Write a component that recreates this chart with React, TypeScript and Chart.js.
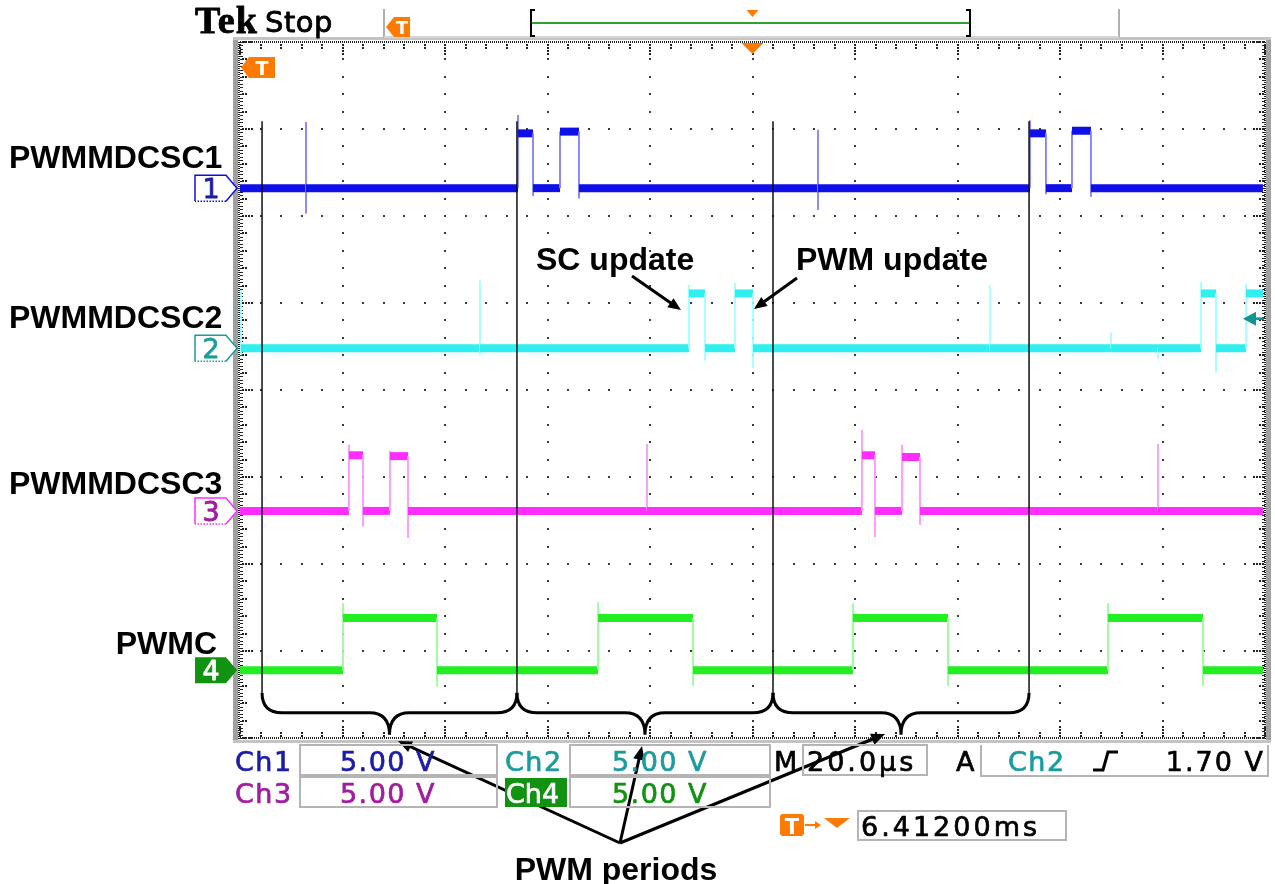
import React, { useEffect, useRef } from 'react';
import { Chart, registerables } from 'chart.js';

Chart.register(...registerables);

// ---- Data (x in horizontal divisions 0..10, y in vertical divisions 0..8) ----
const ch1X = [0, 0.644, 0.644, 0.644, 0.644, 2.712, 2.712, 2.712, 2.859, 2.859, 2.859, 3.122, 3.122, 3.307, 3.307, 3.307, 5.639, 5.639, 5.639, 5.639, 7.707, 7.707, 7.707, 7.863, 7.863, 7.863, 8.117, 8.117, 8.302, 8.302, 8.302, 9.98];
const ch1Y = [6.32, 6.32, 7.08, 6.03, 6.32, 6.32, 7.16, 6.95, 6.95, 6.23, 6.32, 6.32, 6.97, 6.97, 6.2, 6.32, 6.32, 6.99, 6.07, 6.32, 6.32, 7.1, 6.95, 6.95, 6.25, 6.32, 6.32, 6.98, 6.98, 6.22, 6.32, 6.32];

const ch2X = [0.01, 0.01, 0.01, 2.341, 2.341, 2.341, 2.341, 4.38, 4.38, 4.38, 4.537, 4.537, 4.537, 4.829, 4.829, 4.829, 5.005, 5.005, 5.005, 7.317, 7.317, 7.317, 7.317, 8.498, 8.498, 8.498, 8.956, 8.956, 8.956, 9.376, 9.376, 9.376, 9.522, 9.522, 9.522, 9.815, 9.815, 9.815, 9.98];
const ch2Y = [5.15, 4.4, 4.48, 4.48, 5.26, 4.4, 4.48, 4.48, 5.21, 5.11, 5.11, 4.34, 4.48, 4.48, 5.23, 5.11, 5.11, 4.25, 4.48, 4.48, 5.2, 4.45, 4.48, 4.48, 4.66, 4.48, 4.48, 4.36, 4.48, 4.48, 5.24, 5.11, 5.11, 4.2, 4.48, 4.48, 5.22, 5.11, 5.11];

const ch3X = [0, 1.063, 1.063, 1.063, 1.2, 1.2, 1.2, 1.463, 1.463, 1.463, 1.639, 1.639, 1.639, 3.971, 3.971, 3.971, 6.068, 6.068, 6.068, 6.195, 6.195, 6.195, 6.459, 6.459, 6.459, 6.634, 6.634, 6.634, 8.956, 8.956, 8.956, 9.98];
const ch3Y = [2.61, 2.61, 3.37, 3.25, 3.25, 2.43, 2.61, 2.61, 3.3, 3.24, 3.24, 2.3, 2.61, 2.61, 3.38, 2.61, 2.61, 3.54, 3.25, 3.25, 2.31, 2.61, 2.61, 3.37, 3.23, 3.23, 2.45, 2.61, 2.61, 3.38, 2.61, 2.61];

const ch4X = [0, 1.005, 1.005, 1.005, 1.922, 1.922, 1.922, 3.493, 3.493, 3.493, 4.42, 4.42, 4.42, 5.98, 5.98, 5.98, 6.907, 6.907, 6.907, 8.468, 8.468, 8.468, 9.395, 9.395, 9.395, 9.98];
const ch4Y = [0.78, 0.78, 1.55, 1.38, 1.38, 0.59, 0.78, 0.78, 1.56, 1.38, 1.38, 0.6, 0.78, 0.78, 1.55, 1.38, 1.38, 0.6, 0.78, 0.78, 1.55, 1.38, 1.38, 0.6, 0.78, 0.78];

const periodX = [0.215, 2.702, 5.2, 7.698];
const periodTop = 7.09;
const periodBottom = 0.52;

const channelLabels = ['PWMMDCSC1', 'PWMMDCSC2', 'PWMMDCSC3', 'PWMC'];
const channelLevels = [6.32, 4.48, 2.61, 0.78];
const scaleTexts = ['5.00 V', '5.00 V', '5.00 V', '5.00 V'];
const timebaseText = '20.0µs';
const triggerLevelText = '1.70 V';
const triggerLevelDiv = 4.82;
const triggerPosText = '6.41200ms';

const X_DIVS = 10;
const Y_DIVS = 8;

const colors = {
  ch1: '#0f0fe8', ch1e: '#7f7fff', ch1t: '#1c1ca8',
  ch2: '#2ef0f0', ch2e: '#a0ffff', ch2t: '#1c9c9c',
  ch3: '#ff2eff', ch3e: '#ff96ff', ch3t: '#a01ca0',
  ch4: '#22ee22', ch4e: '#96ff96', ch4t: '#119211',
  orange: '#ff7a00',
};

function pts(xs: number[], ys: number[]) {
  return xs.map((x, i) => ({ x, y: ys[i] }));
}

function traceDataset(xs: number[], ys: number[], main: string, edge: string) {
  return {
    data: pts(xs, ys),
    borderColor: main,
    borderWidth: 8,
    pointRadius: 0,
    tension: 0,
    fill: false,
    segment: {
      borderWidth: (c: any) => (c.p0.parsed.y === c.p1.parsed.y ? 8 : 1.8),
      borderColor: (c: any) => (c.p0.parsed.y === c.p1.parsed.y ? main : edge),
    },
  };
}

const SCOPE_FONT = '"DejaVu Sans", Verdana, sans-serif';
const LABEL_FONT = '"Liberation Sans", Arial, sans-serif';

function txt(ctx: CanvasRenderingContext2D, s: string, x: number, y: number, font: string, color: string, align: CanvasTextAlign = 'left', spacing = 0, weight = 0) {
  ctx.save();
  ctx.font = font;
  ctx.fillStyle = color;
  ctx.textAlign = align;
  ctx.textBaseline = 'alphabetic';
  (ctx as any).letterSpacing = spacing + 'px';
  ctx.fillText(s, x, y);
  if (weight > 0) {
    ctx.strokeStyle = color;
    ctx.lineWidth = weight;
    ctx.lineJoin = 'round';
    ctx.strokeText(s, x, y);
  }
  ctx.restore();
}

function arrow(ctx: CanvasRenderingContext2D, x0: number, y0: number, x1: number, y1: number, w = 3, head = 14) {
  const a = Math.atan2(y1 - y0, x1 - x0);
  ctx.save();
  ctx.strokeStyle = '#000';
  ctx.fillStyle = '#000';
  ctx.lineWidth = w;
  ctx.beginPath();
  ctx.moveTo(x0, y0);
  ctx.lineTo(x1 - Math.cos(a) * head * 0.7, y1 - Math.sin(a) * head * 0.7);
  ctx.stroke();
  ctx.beginPath();
  ctx.moveTo(x1, y1);
  ctx.lineTo(x1 - head * Math.cos(a - 0.4), y1 - head * Math.sin(a - 0.4));
  ctx.lineTo(x1 - head * Math.cos(a + 0.4), y1 - head * Math.sin(a + 0.4));
  ctx.closePath();
  ctx.fill();
  ctx.restore();
}

function marker(ctx: CanvasRenderingContext2D, num: string, cy: number, line: string, textColor: string, filled: boolean) {
  const x0 = 195, x1 = 226, tip = 237, h = 13;
  ctx.save();
  ctx.beginPath();
  ctx.moveTo(x0, cy - h);
  ctx.lineTo(x1, cy - h);
  ctx.lineTo(tip, cy);
  ctx.lineTo(x1, cy + h);
  ctx.lineTo(x0, cy + h);
  ctx.closePath();
  if (filled) {
    ctx.fillStyle = line;
    ctx.fill();
  } else {
    ctx.fillStyle = '#fff';
    ctx.fill();
    ctx.strokeStyle = line;
    ctx.lineWidth = 1.5;
    ctx.beginPath();
    ctx.moveTo(x0, cy + h);
    ctx.lineTo(x0, cy - h);
    ctx.lineTo(x1, cy - h);
    ctx.lineTo(tip, cy);
    ctx.lineTo(x1, cy + h);
    ctx.stroke();
    ctx.setLineDash([1.5, 1.5]);
    ctx.beginPath();
    ctx.moveTo(x1, cy + h);
    ctx.lineTo(x0, cy + h);
    ctx.stroke();
  }
  ctx.restore();
  txt(ctx, num, 211, cy + 10, '27px ' + SCOPE_FONT, filled ? '#fff' : textColor, 'center', 0, 0.8);
}

function tMarker(ctx: CanvasRenderingContext2D, x: number, y: number, w: number, h: number) {
  ctx.save();
  ctx.fillStyle = colors.orange;
  ctx.beginPath();
  ctx.moveTo(x, y + h / 2);
  ctx.lineTo(x + 8, y);
  ctx.lineTo(x + w, y);
  ctx.lineTo(x + w, y + h);
  ctx.lineTo(x + 8, y + h);
  ctx.closePath();
  ctx.fill();
  ctx.restore();
  txt(ctx, 'T', x + 8 + (w - 8) / 2, y + h - 3, 'bold ' + Math.round(h * 0.9) + 'px ' + SCOPE_FONT, '#fff', 'center');
}

const decorPlugin = {
  id: 'scopeDecor',
  beforeDatasetsDraw(chart: any) {
    const ctx: CanvasRenderingContext2D = chart.ctx;
    const xs = chart.scales.x;
    const ys = chart.scales.y;
    const L = xs.getPixelForValue(0), R = xs.getPixelForValue(X_DIVS);
    const T = ys.getPixelForValue(Y_DIVS), B = ys.getPixelForValue(0);
    ctx.save();
    // grey frame
    ctx.fillStyle = '#a0a0a0';
    ctx.fillRect(L - 7, T - 4, 5, B - T + 8);
    ctx.fillRect(R + 1, T - 4, 5, B - T + 8);
    ctx.fillStyle = '#c4c4c4';
    ctx.fillRect(L - 7, T - 5, R - L + 13, 3);
    ctx.fillRect(L - 7, B + 2, R - L + 13, 3);
    // grid dots
    ctx.fillStyle = '#3a3a3a';
    for (let i = 1; i < X_DIVS; i++) {
      const px = Math.round(xs.getPixelForValue(i));
      for (let j = 1; j < Y_DIVS * 5; j++) {
        const py = Math.round(ys.getPixelForValue(j / 5));
        ctx.fillRect(px - 1, py - 1, 2, 2);
      }
    }
    for (let j = 1; j < Y_DIVS; j++) {
      const py = Math.round(ys.getPixelForValue(j));
      for (let i = 1; i < X_DIVS * 5; i++) {
        const px = Math.round(xs.getPixelForValue(i / 5));
        ctx.fillRect(px - 1, py - 1, 2, 2);
      }
    }
    // border dotted lines
    ctx.fillStyle = '#222';
    for (let x = L; x <= R; x += 2) {
      ctx.fillRect(x, T - 1, 1, 2);
      ctx.fillRect(x, B - 1, 1, 2);
    }
    for (let y = T; y <= B; y += 2) {
      ctx.fillRect(L - 2, y, 2, 1);
      ctx.fillRect(R - 1, y, 2, 1);
    }
    // border ticks
    for (let i = 0; i <= X_DIVS * 5; i++) {
      const px = Math.round(xs.getPixelForValue(i / 5));
      const major = i % 5 === 0;
      const len = major ? 12 : 5;
      for (let k = 2; k <= len; k += 3) {
        ctx.fillRect(px - 1, T + k, 2, 2);
        ctx.fillRect(px - 1, B - k - 1, 2, 2);
      }
    }
    for (let j = 0; j <= Y_DIVS * 5; j++) {
      const py = Math.round(ys.getPixelForValue(j / 5));
      const major = j % 5 === 0;
      const len = major ? 12 : 6;
      for (let k = 2; k <= len; k += 3) {
        ctx.fillRect(L + k, py - 1, 2, 2);
        ctx.fillRect(R - k - 1, py - 1, 2, 2);
      }
    }
    for (let j = 0; j <= Y_DIVS * 25; j++) {
      const py = Math.round(ys.getPixelForValue(j / 25));
      ctx.fillRect(L, py, 3, 1);
      ctx.fillRect(R - 3, py, 3, 1);
    }
    ctx.restore();
  },
  afterDraw(chart: any) {
    const ctx: CanvasRenderingContext2D = chart.ctx;
    const xs = chart.scales.x;
    const ys = chart.scales.y;
    const T = ys.getPixelForValue(Y_DIVS);
    const R = xs.getPixelForValue(X_DIVS);

    // ---- top status bar ----
    txt(ctx, 'Tek', 195, 33, 'bold 38px "Liberation Serif", "Times New Roman", serif', '#000', 'left', 1, 0.8);
    txt(ctx, 'Stop', 265, 32, '29px ' + SCOPE_FONT, '#000', 'left', 0.5, 0.8);
    ctx.save();
    ctx.fillStyle = '#b0b0b0';
    ctx.fillRect(383, 9, 2, 29);
    ctx.fillRect(1118, 9, 2, 29);
    ctx.fillStyle = '#d4d4d4';
    ctx.fillRect(384, 36, 735, 2);
    // record bracket
    ctx.strokeStyle = '#000';
    ctx.lineWidth = 2;
    ctx.beginPath();
    ctx.moveTo(535, 10); ctx.lineTo(531, 10); ctx.lineTo(531, 36); ctx.lineTo(535, 36);
    ctx.moveTo(966, 10); ctx.lineTo(970, 10); ctx.lineTo(970, 36); ctx.lineTo(966, 36);
    ctx.stroke();
    ctx.strokeStyle = '#2ea02e';
    ctx.beginPath();
    ctx.moveTo(532, 23); ctx.lineTo(969, 23);
    ctx.stroke();
    ctx.fillStyle = colors.orange;
    const trigX = xs.getPixelForValue(X_DIVS / 2);
    ctx.beginPath();
    ctx.moveTo(trigX - 6, 10); ctx.lineTo(trigX + 6, 10); ctx.lineTo(trigX, 17);
    ctx.closePath(); ctx.fill();
    ctx.beginPath();
    ctx.moveTo(trigX - 11, T + 1); ctx.lineTo(trigX + 11, T + 1); ctx.lineTo(trigX, T + 12);
    ctx.closePath(); ctx.fill();
    ctx.restore();
    tMarker(ctx, 386, 17, 24, 20);
    tMarker(ctx, 241, 57, 34, 21);

    // trigger level arrow (Ch2)
    const tl = ys.getPixelForValue(triggerLevelDiv);
    ctx.save();
    ctx.fillStyle = '#129494';
    ctx.strokeStyle = '#129494';
    ctx.lineWidth = 2.5;
    ctx.beginPath();
    ctx.moveTo(1243, tl); ctx.lineTo(1256, tl - 7); ctx.lineTo(1256, tl + 7);
    ctx.closePath(); ctx.fill();
    ctx.beginPath();
    ctx.moveTo(1254, tl); ctx.lineTo(R - 1, tl);
    ctx.stroke();
    ctx.restore();

    // ---- channel markers and labels ----
    const mk = [
      ['1', colors.ch1, colors.ch1t, false],
      ['2', colors.ch2t, colors.ch2t, false],
      ['3', colors.ch3, colors.ch3t, false],
      ['4', colors.ch4t, '#fff', true],
    ] as const;
    channelLevels.forEach((lv, i) => {
      const cy = ys.getPixelForValue(lv);
      marker(ctx, mk[i][0], cy, mk[i][1], mk[i][2], mk[i][3]);
    });
    const lf = 'bold 32px ' + LABEL_FONT;
    txt(ctx, channelLabels[0], 9, 168, lf, '#000');
    txt(ctx, channelLabels[1], 9, 328, lf, '#000');
    txt(ctx, channelLabels[2], 9, 494, lf, '#000');
    txt(ctx, channelLabels[3], 217, 654, lf, '#000', 'right');

    // ---- period braces ----
    ctx.save();
    ctx.strokeStyle = '#000';
    ctx.lineWidth = 3;
    const by0 = ys.getPixelForValue(periodBottom);
    const by1 = by0 + 20;
    const by2 = by0 + 42;
    for (let k = 0; k < periodX.length - 1; k++) {
      const a = xs.getPixelForValue(periodX[k]);
      const b = xs.getPixelForValue(periodX[k + 1]);
      const m = (a + b) / 2;
      const r = 20;
      ctx.beginPath();
      ctx.moveTo(a, by0);
      ctx.quadraticCurveTo(a, by1, a + r, by1);
      ctx.lineTo(m - r, by1);
      ctx.quadraticCurveTo(m, by1, m, by2);
      ctx.quadraticCurveTo(m, by1, m + r, by1);
      ctx.lineTo(b - r, by1);
      ctx.quadraticCurveTo(b, by1, b, by0);
      ctx.stroke();
    }
    ctx.restore();

    // ---- annotations ----
    const af = 'bold 32px ' + LABEL_FONT;
    txt(ctx, 'SC update', 536, 270, af, '#000');
    txt(ctx, 'PWM update', 796, 270, af, '#000');
    arrow(ctx, 632, 276, 681, 310, 3, 14);
    arrow(ctx, 797, 278, 754, 309, 3, 14);
    txt(ctx, 'PWM periods', 616, 880, af, '#000', 'center');
    arrow(ctx, 620, 843, 398, 741, 3, 15);
    arrow(ctx, 620, 843, 642, 746, 3, 15);
    arrow(ctx, 620, 843, 885, 734, 3, 15);

    // ---- bottom readout ----
    const sf = '27px ' + SCOPE_FONT;
    const wt = 0.7;
    ctx.save();
    ctx.strokeStyle = '#b4b4b4';
    ctx.lineWidth = 2;
    ctx.strokeRect(300, 745, 197, 30);
    ctx.strokeRect(570, 745, 200, 30);
    ctx.strokeRect(803, 745, 124, 30);
    ctx.beginPath();
    ctx.moveTo(981, 745); ctx.lineTo(981, 776); ctx.lineTo(1268, 776); ctx.lineTo(1268, 745);
    ctx.stroke();
    ctx.strokeRect(300, 777, 197, 30);
    ctx.strokeRect(570, 777, 200, 30);
    ctx.strokeRect(858, 811, 208, 29);
    ctx.fillStyle = colors.ch4t;
    ctx.fillRect(505, 778, 62, 29);
    ctx.restore();

    txt(ctx, 'Ch1', 235, 771, sf, colors.ch1t, 'left', 1.5, wt);
    txt(ctx, scaleTexts[0], 388, 771, sf, colors.ch1t, 'center', 1.5, wt);
    txt(ctx, 'Ch2', 505, 771, sf, colors.ch2t, 'left', 1.5, wt);
    txt(ctx, scaleTexts[1], 660, 771, sf, colors.ch2t, 'center', 1.5, wt);
    txt(ctx, 'M', 774, 771, sf, '#000', 'left', 0, wt);
    txt(ctx, timebaseText, 807, 771, sf, '#000', 'left', 3, wt);
    txt(ctx, 'A', 956, 771, sf, '#000', 'left', 0, wt);
    txt(ctx, 'Ch2', 1008, 771, sf, colors.ch2t, 'left', 1.5, wt);
    txt(ctx, triggerLevelText, 1265, 771, sf, '#000', 'right', 2, wt);
    txt(ctx, 'Ch3', 235, 803, sf, colors.ch3t, 'left', 1.5, wt);
    txt(ctx, scaleTexts[2], 388, 803, sf, colors.ch3t, 'center', 1.5, wt);
    txt(ctx, 'Ch4', 506, 803, sf, '#fff', 'left', 0, wt);
    txt(ctx, scaleTexts[3], 660, 803, sf, colors.ch4t, 'center', 1.5, wt);
    txt(ctx, triggerPosText, 861, 836, sf, '#000', 'left', 3, wt);

    // rising edge symbol
    ctx.save();
    ctx.strokeStyle = '#000';
    ctx.lineWidth = 3;
    ctx.beginPath();
    ctx.moveTo(1093, 770); ctx.lineTo(1103, 770); ctx.lineTo(1108, 752); ctx.lineTo(1118, 752);
    ctx.stroke();
    // T -> trigger icon
    ctx.fillStyle = colors.orange;
    ctx.beginPath();
    (ctx as any).roundRect ? (ctx as any).roundRect(780, 814, 24, 22, 3) : ctx.rect(780, 814, 24, 22);
    ctx.fill();
    ctx.strokeStyle = colors.orange;
    ctx.lineWidth = 2;
    ctx.beginPath();
    ctx.moveTo(805, 825); ctx.lineTo(819, 825);
    ctx.stroke();
    ctx.beginPath();
    ctx.moveTo(821, 825); ctx.lineTo(815, 821); ctx.lineTo(815, 829); ctx.closePath(); ctx.fill();
    ctx.beginPath();
    ctx.moveTo(824, 818); ctx.lineTo(850, 818); ctx.lineTo(837, 828); ctx.closePath(); ctx.fill();
    ctx.restore();
    txt(ctx, 'T', 792, 834, 'bold 21px ' + SCOPE_FONT, '#fff', 'center');
  },
};

export default function App() {
  const ref = useRef<HTMLCanvasElement | null>(null);
  useEffect(() => {
    if (!ref.current) return;
    const periodData: any[] = [];
    periodX.forEach((x) => {
      periodData.push({ x, y: periodTop }, { x, y: periodBottom }, { x, y: null });
    });
    const chart = new Chart(ref.current, {
      type: 'line',
      data: {
        datasets: [
          {
            data: periodData,
            borderColor: '#111',
            borderWidth: 1.5,
            pointRadius: 0,
            spanGaps: false,
            fill: false,
          } as any,
          traceDataset(ch1X, ch1Y, colors.ch1, colors.ch1e),
          traceDataset(ch2X, ch2Y, colors.ch2, colors.ch2e),
          traceDataset(ch3X, ch3Y, colors.ch3, colors.ch3e),
          traceDataset(ch4X, ch4Y, colors.ch4, colors.ch4e),
        ],
      },
      options: {
        animation: false,
        responsive: false,
        devicePixelRatio: 1,
        layout: { padding: { left: 240, right: 10, top: 42, bottom: 146 } },
        plugins: { legend: { display: false }, tooltip: { enabled: false } },
        scales: {
          x: { type: 'linear', min: 0, max: X_DIVS, display: false },
          y: { type: 'linear', min: 0, max: Y_DIVS, display: false },
        },
      } as any,
      plugins: [decorPlugin],
    });
    return () => chart.destroy();
  }, []);
  return (
    <div style={{ position: 'absolute', left: 0, top: 0, width: 1275, height: 884, background: '#fff' }}>
      <canvas ref={ref} width={1275} height={884} style={{ width: 1275, height: 884, display: 'block' }} />
    </div>
  );
}
